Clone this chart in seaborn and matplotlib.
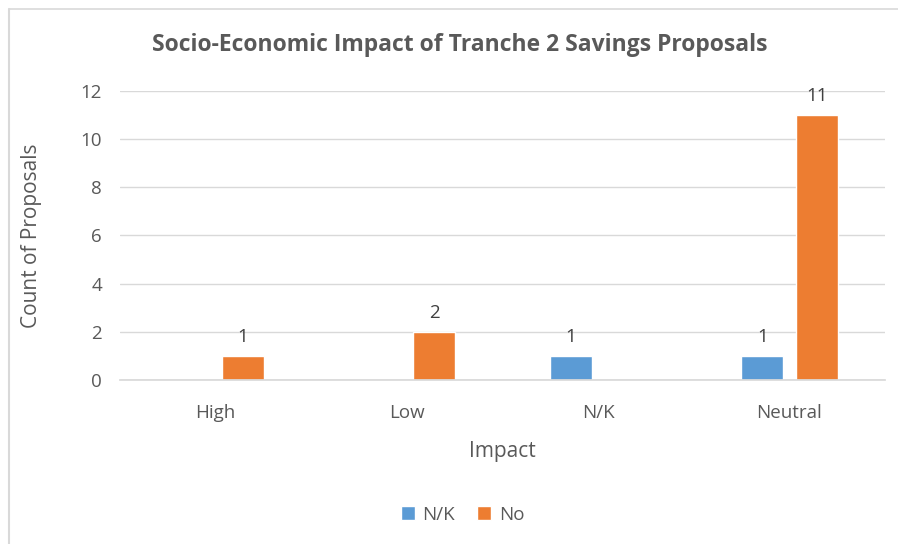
import matplotlib
matplotlib.use("Agg")
import matplotlib.pyplot as plt
import seaborn as sns
import pandas as pd
from matplotlib.lines import Line2D

categories = ["High", "Low", "N/K", "Neutral"]
series = ["N/K", "No"]
nk_values = [None, None, 1, 1]
no_values = [1, 2, None, 11]
yticks = [0, 2, 4, 6, 8, 10, 12]

rows = []
for c, v in zip(categories, nk_values):
    rows.append({"Impact": c, "Series": "N/K", "Count": v})
for c, v in zip(categories, no_values):
    rows.append({"Impact": c, "Series": "No", "Count": v})
df = pd.DataFrame(rows)

sns.set_theme(style="white")
plt.rcParams['font.family'] = ['Open Sans', 'DejaVu Sans']

fig = plt.figure(figsize=(8.98, 5.44), dpi=100)
ax = fig.add_axes([0.1336, 0.3015, 0.852, 0.5312])

sns.barplot(data=df, x="Impact", y="Count", hue="Series", order=categories,
            hue_order=series, palette=["#5B9BD5", "#ED7D31"], width=0.57, gap=0.23,
            ax=ax, legend=True, saturation=1)

for cont in ax.containers:
    labels = []
    for b in cont:
        h = b.get_height()
        labels.append("" if (h is None or h != h or h == 0) else f"{int(h)}")
    ax.bar_label(cont, labels=labels, padding=7, fontsize=13.5, color="#404040")

ax.set_ylim(0, 12)
ax.set_yticks(yticks)
ax.set_xlim(-0.5, 3.5)
ax.yaxis.grid(True, color="#D9D9D9", linewidth=1)
ax.set_axisbelow(True)
for s in ["left", "top", "right"]:
    ax.spines[s].set_visible(False)
ax.spines["bottom"].set_color("#D9D9D9")
ax.tick_params(axis="both", length=0, labelsize=13.5, colors="#595959")
ax.tick_params(axis="x", pad=17)
ax.tick_params(axis="y", pad=13)
ax.set_xlabel("Impact", fontsize=15, color="#595959", labelpad=14)
ax.set_ylabel("Count of Proposals", fontsize=15, color="#595959", labelpad=28)

fig.text(0.512, 0.917, "Socio-Economic Impact of Tranche 2 Savings Proposals",
         ha="center", va="center", fontsize=16.5, fontweight="bold", color="#595959")

leg = ax.get_legend()
leg.remove()
handles, labels = ax.get_legend_handles_labels()
fig.legend(handles, labels, loc="center", bbox_to_anchor=(0.515, 0.054), ncol=2,
           frameon=False, fontsize=13.5, handlelength=0.75, handleheight=0.75,
           columnspacing=1.2, handletextpad=0.4, labelcolor="#595959")

W, H = 898, 544
fig.add_artist(Line2D([8.5 / W, 1.0], [1 - 8.5 / H, 1 - 8.5 / H], transform=fig.transFigure,
                      color="#D9D9D9", linewidth=1.2))
fig.add_artist(Line2D([8.5 / W, 8.5 / W], [0.0, 1 - 8.5 / H], transform=fig.transFigure,
                      color="#D9D9D9", linewidth=1.5))

fig.savefig("out.png", dpi=100)
